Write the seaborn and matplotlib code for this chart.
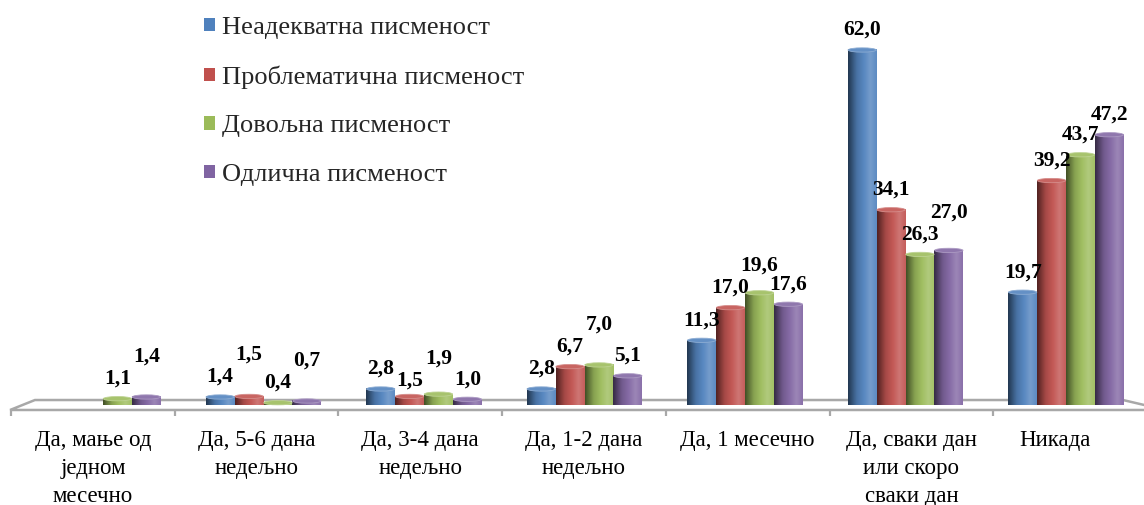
import numpy as np
import pandas as pd
import matplotlib
matplotlib.use("Agg")
import matplotlib.pyplot as plt
import matplotlib.colors as mcolors
from matplotlib.patches import Patch, Ellipse, Polygon
import seaborn as sns

# ---- data -------------------------------------------------------------
categories = [
    "Да, мање од\nједном\nмесечно",
    "Да, 5-6 дана\nнедељно",
    "Да, 3-4 дана\nнедељно",
    "Да, 1-2 дана\nнедељно",
    "Да, 1 месечно",
    "Да, сваки дан\nили скоро\nсваки дан",
    "Никада",
]
series_names = [
    "Неадекватна писменост",
    "Проблематична писменост",
    "Довољна писменост",
    "Одлична писменост",
]
inadequate = [0.0, 1.4, 2.8, 2.8, 11.3, 62.0, 19.7]
problematic = [0.0, 1.5, 1.5, 6.7, 17.0, 34.1, 39.2]
sufficient = [1.1, 0.4, 1.9, 7.0, 19.6, 26.3, 43.7]
excellent = [1.4, 0.7, 1.0, 5.1, 17.6, 27.0, 47.2]
colors = ["#4F81BD", "#C0504D", "#9BBB59", "#8064A2"]

values = [inadequate, problematic, sufficient, excellent]
df = pd.DataFrame({
    "category": np.tile(categories, len(series_names)),
    "series": np.repeat(series_names, len(categories)),
    "value": np.concatenate(values),
})

# ---- figure -----------------------------------------------------------
sns.set_theme(style="white")
plt.rcParams["font.family"] = ["Liberation Serif", "DejaVu Serif"]

W, H, DPI = 1144, 505, 100
fig = plt.figure(figsize=(W / DPI, H / DPI), dpi=DPI)
ax = fig.add_axes([22.75 / W, 85 / H, 1123.5 / W, 420 / H])

sns.barplot(data=df, x="category", y="value", hue="series",
            order=categories, hue_order=series_names, palette=colors,
            width=0.72, dodge=True, linewidth=0, edgecolor="none",
            legend=False, ax=ax, zorder=3)

XLIM = (-0.5, 6.5)
YLIM = (-2.62, 70.73)
ax.set_xlim(*XLIM)
ax.set_ylim(*YLIM)
ax.axis("off")


def shade(base, t):
    """Horizontal cylinder-like shading profile for a bar colour."""
    rgb = np.array(mcolors.to_rgb(base))
    dark = np.interp(t, [0.0, 0.3, 0.55, 1.0], [0.42, 0.85, 1.0, 1.0])
    light = np.interp(t, [0.0, 0.55, 0.78, 1.0], [0.0, 0.05, 0.22, 0.08])
    out = rgb[None, :] * dark[:, None]
    out = out + (1 - out) * light[:, None]
    return np.clip(out, 0, 1)


tgrid = np.linspace(0, 1, 64)
cap_h = 0.75
for container, col in zip(ax.containers, colors):
    grad = shade(col, tgrid)[None, :, :]
    for bar in container:
        x0, w, h = bar.get_x(), bar.get_width(), bar.get_height()
        if h <= 0:
            continue
        bar.set_visible(False)
        ax.imshow(grad, extent=[x0, x0 + w, 0, h], aspect="auto",
                  interpolation="bicubic", zorder=3)
        rgb = np.array(mcolors.to_rgb(col))
        ax.add_patch(Ellipse((x0 + w / 2, h), w * 0.98, cap_h,
                             facecolor=rgb + (1 - rgb) * 0.12,
                             edgecolor=rgb + (1 - rgb) * 0.35,
                             linewidth=0.6, zorder=3.5))

# floor of the plot area (slight perspective)
back_y, front_y = 0.87, -0.87
front_l, front_r = -0.579, 6.62
back_l, back_r = -0.424, 6.355
floor = Polygon([(front_l, front_y), (back_l, back_y), (back_r, back_y),
                 (front_r, front_y)], closed=True, facecolor="white",
                edgecolor="#a8a8a8", linewidth=1.8, zorder=1, clip_on=False)
ax.add_patch(floor)


def front(d):
    return -0.573 + 1.02 * (d + 0.5)


for k in range(len(categories) + 1):
    xf = front(k - 0.5)
    ax.plot([xf, xf], [front_y, front_y - 1.05], color="#a8a8a8",
            lw=1.6, zorder=1, clip_on=False, solid_capstyle="butt")

for i, cat in enumerate(categories):
    xc = min(front(i), 5.93)
    ax.text(xc, -4.3, cat, ha="center", va="top", fontsize=16.5,
            linespacing=1.45, color="black")

# ---- value labels -----------------------------------------------------
y0 = ax.transData.transform((0, 0))[1]
ppu = ax.transData.transform((0, 1))[1] - y0  # pixels per unit
base_off, min_gap, lift, drop = 20.0, 16.0, 22.0, 12.0
for ci, cat in enumerate(categories):
    prev_pos, prev_v = None, None
    for si, container in enumerate(ax.containers):
        v = values[si][ci]
        bar = container[ci]
        if v <= 0:
            continue
        pos = v * ppu + base_off
        if prev_pos is not None and abs(pos - prev_pos) < min_gap:
            lowered = prev_pos - drop
            if v < prev_v and lowered > v * ppu + 13:
                pos = lowered
            else:
                pos = prev_pos + lift
        prev_pos, prev_v = pos, v
        off_pt = (pos - v * ppu) * 72 / DPI
        ax.annotate(f"{v:.1f}".replace(".", ","),
                    (bar.get_x() + bar.get_width() / 2, v),
                    xytext=(0, off_pt), textcoords="offset points",
                    ha="center", va="center", fontsize=15.5,
                    fontweight="bold", color="black", zorder=5)

# ---- legend -----------------------------------------------------------
handles = [Patch(facecolor=c, edgecolor="none") for c in colors]
fig.legend(handles, series_names, loc="upper left",
           bbox_to_anchor=(204 / W, 1 - 17 / H), frameon=False,
           fontsize=19, handlelength=0.4, handleheight=0.4,
           handletextpad=0.3, labelspacing=1.0, borderpad=0,
           borderaxespad=0)

fig.savefig("out.png", dpi=DPI)
